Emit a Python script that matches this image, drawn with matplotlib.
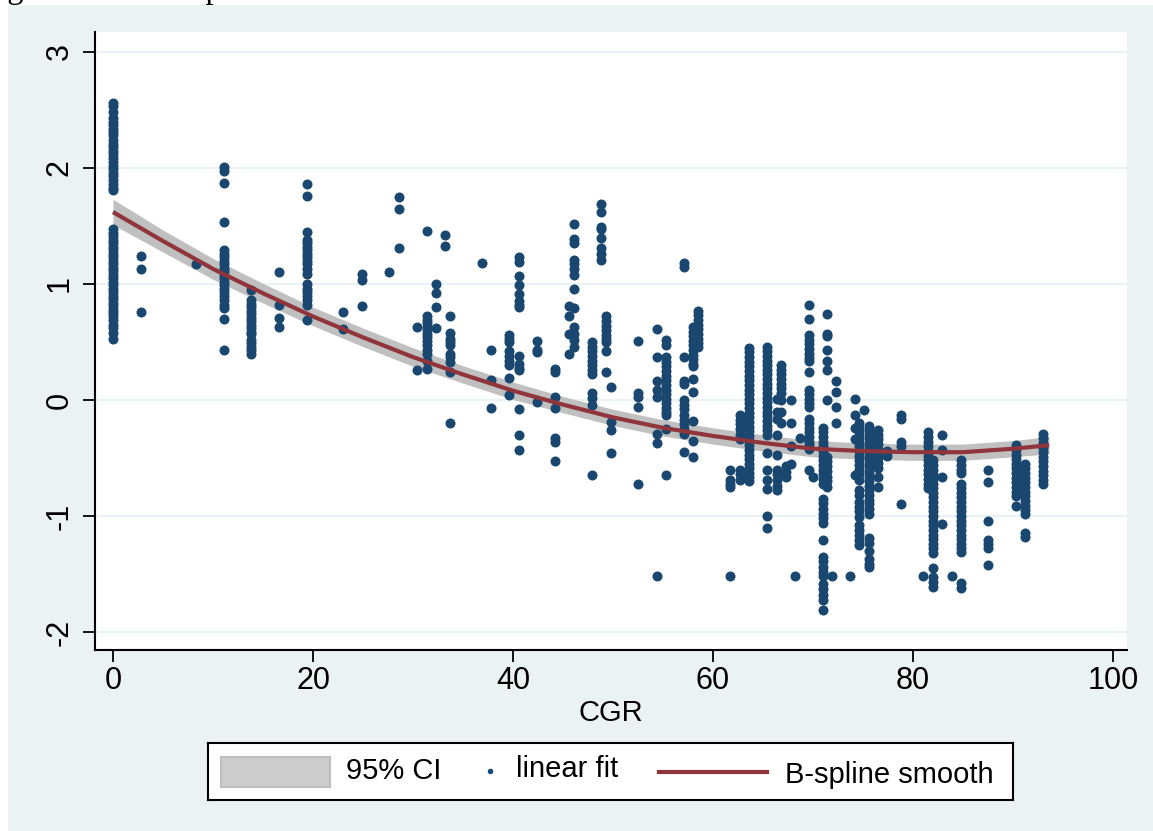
import matplotlib
matplotlib.use("Agg")
import matplotlib.pyplot as plt
from matplotlib.patches import Rectangle
import numpy as np

# CGR values where observations sit, and the scores at each of them
cgr_levels = [0.0, 2.8, 8.3, 11.1, 13.8, 16.6, 19.4, 23.0, 24.9, 27.6, 28.6, 30.4,
              31.4, 32.3, 33.2, 33.7, 36.9, 37.8, 39.6, 40.6, 42.4, 44.2, 45.6,
              46.1, 47.9, 48.8, 49.3, 49.8, 52.5, 54.4, 55.3, 57.1, 58.0, 58.5,
              61.7, 62.7, 63.6, 65.4, 66.4, 66.8, 67.3, 67.8, 68.2, 68.7, 69.6,
              70.0, 71.0, 71.4, 71.9, 72.3, 73.7, 74.2, 74.6, 75.1, 75.6, 76.5,
              77.4, 78.8, 81.0, 81.5, 82.0, 82.9, 83.9, 84.8, 87.5, 90.3, 91.2, 93.0]

score_columns = [
    [2.56, 2.53, 2.48, 2.43, 2.40, 2.37, 2.34, 2.31, 2.28, 2.24, 2.21, 2.18, 2.15, 2.12,
     2.09, 2.05, 2.02, 1.99, 1.96, 1.93, 1.90, 1.86, 1.83, 1.81, 1.47, 1.44, 1.41, 1.38,
     1.35, 1.32, 1.29, 1.26, 1.23, 1.20, 1.17, 1.14, 1.11, 1.08, 1.05, 1.02, 0.99, 0.96,
     0.93, 0.90, 0.87, 0.84, 0.81, 0.78, 0.75, 0.72, 0.69, 0.65, 0.62, 0.58, 0.53],
    [1.24, 1.13, 0.76],
    [1.17],
    [2.01, 1.97, 1.87, 1.53, 1.29, 1.26, 1.23, 1.20, 1.17, 1.14, 1.11, 1.08, 1.05, 1.02,
     0.99, 0.96, 0.93, 0.90, 0.86, 0.82, 0.79, 0.70, 0.43],
    [0.95, 0.86, 0.83, 0.80, 0.77, 0.74, 0.71, 0.68, 0.65, 0.62, 0.59, 0.57, 0.52, 0.49,
     0.46, 0.43, 0.40],
    [1.10, 0.82, 0.71, 0.63],
    [1.86, 1.76, 1.45, 1.38, 1.35, 1.32, 1.29, 1.26, 1.23, 1.20, 1.17, 1.13, 1.09, 1.00,
     0.96, 0.93, 0.90, 0.86, 0.82, 0.69],
    [0.76, 0.61],
    [1.09, 1.03, 0.81],
    [1.10],
    [1.75, 1.65, 1.31],
    [0.63, 0.26],
    [1.46, 0.72, 0.69, 0.66, 0.63, 0.60, 0.57, 0.54, 0.51, 0.47, 0.43, 0.40, 0.34, 0.27],
    [1.00, 0.92, 0.80, 0.62],
    [1.42, 1.33],
    [0.72, 0.58, 0.53, 0.50, 0.47, 0.40, 0.37, 0.33, 0.24, -0.20],
    [1.18],
    [0.43, 0.17, -0.07],
    [0.56, 0.53, 0.50, 0.42, 0.38, 0.34, 0.30, 0.19, 0.04],
    [1.23, 1.19, 1.07, 0.99, 0.91, 0.85, 0.82, 0.80, 0.38, 0.31, 0.28, 0.26, -0.08,
     -0.30, -0.43],
    [0.51, 0.43, 0.41, -0.02],
    [0.27, 0.24, 0.03, -0.07, -0.33, -0.36, -0.53],
    [0.81, 0.72, 0.57, 0.40],
    [1.52, 1.39, 1.35, 1.21, 1.17, 1.13, 1.08, 0.96, 0.79, 0.63, 0.57, 0.52, 0.46],
    [0.50, 0.46, 0.42, 0.38, 0.34, 0.30, 0.26, 0.22, 0.06, 0.02, -0.04, -0.65],
    [1.69, 1.62, 1.49, 1.47, 1.40, 1.31, 1.26, 1.21],
    [0.72, 0.68, 0.64, 0.60, 0.56, 0.53, 0.50, 0.42, 0.24],
    [0.11, -0.19, -0.26, -0.46],
    [0.51, 0.06, 0.03, -0.06, -0.72],
    [0.61, 0.37, 0.16, 0.09, 0.03, -0.29, -0.37, -1.52],
    [0.52, 0.47, 0.37, 0.33, 0.29, 0.25, 0.21, 0.17, 0.13, 0.09, 0.05, 0.01, -0.03,
     -0.07, -0.10, -0.13, -0.25, -0.65],
    [1.18, 1.15, 0.37, 0.16, 0.14, 0.00, -0.04, -0.08, -0.13, -0.17, -0.21, -0.25,
     -0.29, -0.45],
    [0.63, 0.59, 0.55, 0.51, 0.47, 0.43, 0.39, 0.35, 0.31, 0.29, 0.18, 0.07, -0.18,
     -0.35, -0.49],
    [0.77, 0.73, 0.69, 0.65, 0.61, 0.57, 0.53, 0.49, 0.46],
    [-0.60, -0.69, -0.72, -0.75, -1.52],
    [-0.13, -0.17, -0.21, -0.25, -0.30, -0.34, -0.60, -0.64, -0.69],
    [0.45, 0.41, 0.37, 0.33, 0.29, 0.25, 0.21, 0.17, 0.13, 0.09, 0.05, 0.01, -0.03,
     -0.07, -0.11, -0.15, -0.19, -0.23, -0.27, -0.31, -0.35, -0.39, -0.43, -0.47,
     -0.51, -0.55, -0.59, -0.63, -0.66, -0.70],
    [0.46, 0.42, 0.38, 0.34, 0.30, 0.26, 0.22, 0.18, 0.14, 0.10, 0.06, 0.02, -0.02,
     -0.06, -0.10, -0.14, -0.18, -0.22, -0.26, -0.30, -0.46, -0.60, -0.69, -0.77,
     -1.00, -1.10],
    [0.01, -0.10, -0.16, -0.30, -0.47, -0.60, -0.64, -0.69, -0.74, -0.78],
    [0.30, 0.26, 0.22, 0.18, 0.14, 0.10, 0.06, 0.00, -0.10, -0.20],
    [-0.57, -0.62, -0.66],
    [0.00, -0.20, -0.40, -0.55],
    [-1.52],
    [-0.33],
    [0.82, 0.70, 0.56, 0.52, 0.48, 0.44, 0.40, 0.36, 0.34, 0.24, 0.09, 0.05, 0.01,
     -0.03, -0.06, -0.16, -0.20, -0.24, -0.28, -0.32, -0.36, -0.39, -0.42, -0.60],
    [-0.66],
    [-0.24, -0.28, -0.32, -0.36, -0.40, -0.44, -0.48, -0.52, -0.56, -0.60, -0.64,
     -0.68, -0.72, -0.85, -0.89, -0.94, -0.98, -1.02, -1.06, -1.21, -1.35, -1.39,
     -1.44, -1.48, -1.52, -1.59, -1.63, -1.68, -1.72, -1.81],
    [0.74, 0.57, 0.55, 0.43, 0.34, 0.26, 0.00, -0.49, -0.53, -0.57, -0.61, -0.66,
     -0.70, -0.75],
    [-1.52],
    [0.16, 0.07, -0.06, -0.20],
    [-1.52],
    [0.01, -0.13, -0.24, -0.34, -0.65],
    [-0.20, -0.24, -0.28, -0.32, -0.36, -0.40, -0.44, -0.48, -0.52, -0.56, -0.60,
     -0.64, -0.69, -0.78, -0.82, -0.88, -0.92, -0.96, -1.01, -1.08, -1.12, -1.16,
     -1.21, -1.25],
    [-0.09],
    [-0.22, -0.26, -0.30, -0.34, -0.38, -0.42, -0.46, -0.50, -0.54, -0.58, -0.62,
     -0.66, -0.70, -0.74, -0.78, -0.82, -0.86, -0.90, -0.94, -0.98, -1.19, -1.23,
     -1.30, -1.37, -1.41, -1.44],
    [-0.26, -0.30, -0.34, -0.38, -0.42, -0.46, -0.50, -0.54, -0.59, -0.66, -0.75],
    [-0.44, -0.48],
    [-0.13, -0.16, -0.36, -0.40, -0.90],
    [-1.52],
    [-0.28, -0.32, -0.36, -0.40, -0.44, -0.48, -0.52, -0.56, -0.60, -0.64, -0.68,
     -0.72, -0.76],
    [-0.52, -0.56, -0.60, -0.64, -0.68, -0.72, -0.76, -0.80, -0.84, -0.88, -0.92,
     -0.96, -1.00, -1.04, -1.08, -1.12, -1.16, -1.20, -1.24, -1.28, -1.32, -1.45,
     -1.53, -1.57, -1.61],
    [-0.30, -0.43, -0.66, -1.07],
    [-1.52],
    [-0.52, -0.56, -0.60, -0.63, -0.72, -0.76, -0.80, -0.84, -0.88, -0.92, -0.96,
     -1.00, -1.04, -1.08, -1.12, -1.16, -1.20, -1.24, -1.28, -1.31, -1.58, -1.62],
    [-0.60, -0.71, -1.04, -1.21, -1.24, -1.28, -1.42],
    [-0.39, -0.43, -0.47, -0.51, -0.55, -0.59, -0.63, -0.67, -0.71, -0.75, -0.79,
     -0.83, -0.91],
    [-0.55, -0.59, -0.63, -0.67, -0.71, -0.75, -0.79, -0.83, -0.87, -0.91, -0.95,
     -0.98, -1.15, -1.18],
    [-0.29, -0.33, -0.37, -0.41, -0.45, -0.49, -0.53, -0.57, -0.61, -0.65, -0.69,
     -0.72],
]

# B-spline smooth and its 95% CI half-width
spline_x = [0, 5, 10, 15, 20, 25, 30, 35, 40, 45, 50, 55, 60, 65, 70, 75, 80, 85, 90, 93.6]
spline_y = [1.62, 1.37, 1.13, 0.92, 0.72, 0.54, 0.37, 0.22, 0.08, -0.04, -0.15, -0.24,
            -0.31, -0.37, -0.42, -0.44, -0.45, -0.45, -0.42, -0.39]
ci_halfwidth = [0.11, 0.095, 0.09, 0.085, 0.08, 0.08, 0.08, 0.075, 0.075, 0.07, 0.07,
                0.07, 0.07, 0.07, 0.07, 0.07, 0.07, 0.07, 0.07, 0.075]

x_ticks = [0, 20, 40, 60, 80, 100]
y_ticks = [-2, -1, 0, 1, 2, 3]

BG = "#eaf2f3"
NAVY = "#1a476f"
MAROON = "#90353b"
BAND = "#c0c0c0"

plt.rcParams["font.family"] = ["Liberation Sans", "DejaVu Sans"]
plt.rcParams["axes.unicode_minus"] = False

W, H = 1153, 831
fig = plt.figure(figsize=(W / 100, H / 100), dpi=100, facecolor="white")
fig.patches.append(Rectangle((8 / W, 0), 1 - 8 / W, (H - 5) / H, transform=fig.transFigure,
                             facecolor=BG, edgecolor="none", zorder=-10))
# cut-off caption line above the figure (only its descenders show)
fig.text(-20 / W, 1 + 2 / H, "Figure 1: Scatter plot", family="Liberation Serif",
         fontsize=23.5, va="baseline", ha="left")

ax = fig.add_axes([95 / W, (H - 650) / H, (1127 - 95) / W, (650 - 32) / H])
ax.set_facecolor("white")

xs = np.concatenate([[c] * len(v) for c, v in zip(cgr_levels, score_columns)])
ys = np.concatenate(score_columns)

sx = np.array(spline_x)
sy = np.array(spline_y)
hw = np.array(ci_halfwidth)
ax.fill_between(sx, sy - hw, sy + hw, color=BAND, linewidth=0, zorder=2)
ax.scatter(xs, ys, s=52, color=NAVY, linewidths=0, zorder=3)
ax.plot(sx, sy, color=MAROON, lw=3.0, solid_capstyle="butt", zorder=4)

ax.set_xlim(-1.8, 101.4)
ax.set_ylim(-2.155, 3.172)
ax.set_xticks(x_ticks)
ax.set_yticks(y_ticks)
ax.grid(axis="y", color=BG, lw=1.6)
ax.set_axisbelow(True)
for side in ["top", "right"]:
    ax.spines[side].set_visible(False)
for side in ["left", "bottom"]:
    ax.spines[side].set_linewidth(1.5)
ax.tick_params(axis="both", length=8.5, width=1.3, labelsize=22, direction="out")
ax.tick_params(axis="y", pad=6)
ax.tick_params(axis="x", pad=3)
for lbl in ax.get_yticklabels():
    lbl.set_rotation(90)
    lbl.set_va("center")
ax.set_xlabel("CGR", fontsize=21, labelpad=2)

# legend box drawn as its own small axes, in pixel units
lg = fig.add_axes([208 / W, (H - 800) / H, 805 / W, 57 / H])
lg.set_xlim(0, 805)
lg.set_ylim(0, 57)
lg.set_xticks([])
lg.set_yticks([])
lg.set_facecolor("white")
for s in lg.spines.values():
    s.set_linewidth(1.5)
lg.add_patch(Rectangle((13, 13), 109, 30, facecolor="#cccccc", edgecolor="#bdbdbd", lw=1.5))
lg.text(138, 29, "95% CI", fontsize=21, va="center", ha="left")
lg.scatter([282], [29], s=16, color=NAVY, linewidths=0)
lg.text(308, 31, "linear fit", fontsize=21, va="center", ha="left")
lg.plot([451, 559], [28, 28], color=MAROON, lw=3.0)
lg.text(577, 25, "B-spline smooth", fontsize=21, va="center", ha="left")

fig.savefig("out.png", dpi=100, facecolor="white")
